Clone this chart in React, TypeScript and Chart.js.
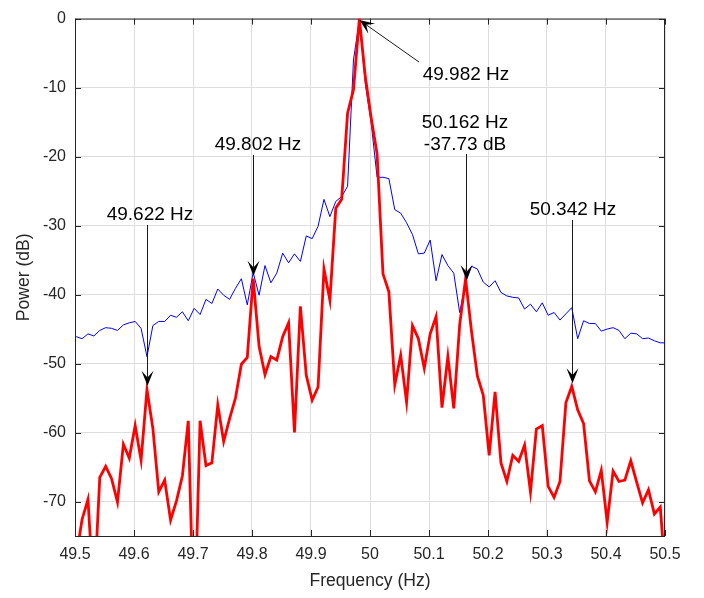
import React, { useEffect, useRef } from 'react';
import { Chart, registerables } from 'chart.js';

Chart.register(...registerables);

// Frequency bins (Hz)
const frequencies = [
  49.502, 49.512, 49.522, 49.532, 49.542, 49.552, 49.562, 49.572, 49.582, 49.592,
  49.602, 49.612, 49.622, 49.632, 49.642, 49.652, 49.662, 49.672, 49.682, 49.692,
  49.702, 49.712, 49.722, 49.732, 49.742, 49.752, 49.762, 49.772, 49.782, 49.792,
  49.802, 49.812, 49.822, 49.832, 49.842, 49.852, 49.862, 49.872, 49.882, 49.892,
  49.902, 49.912, 49.922, 49.932, 49.942, 49.952, 49.962, 49.972, 49.982, 49.992,
  50.002, 50.012, 50.022, 50.032, 50.042, 50.052, 50.062, 50.072, 50.082, 50.092,
  50.102, 50.112, 50.122, 50.132, 50.142, 50.152, 50.162, 50.172, 50.182, 50.192,
  50.202, 50.212, 50.222, 50.232, 50.242, 50.252, 50.262, 50.272, 50.282, 50.292,
  50.302, 50.312, 50.322, 50.332, 50.342, 50.352, 50.362, 50.372, 50.382, 50.392,
  50.402, 50.412, 50.422, 50.432, 50.442, 50.452, 50.462, 50.472, 50.482, 50.492,
  50.502,
];

// Blue thin trace (dB)
const bluePowerDb = [
  -46.1, -46.4, -45.7, -46.0, -45.2, -44.8, -44.9, -45.2, -44.4, -44.1,
  -43.9, -44.9, -49.0, -44.5, -43.9, -43.9, -43.0, -43.3, -42.5, -43.8,
  -42.0, -42.9, -40.7, -41.3, -39.2, -40.1, -40.7, -39.1, -37.7, -41.5,
  -36.8, -40.1, -35.8, -38.3, -36.9, -34.0, -35.4, -34.1, -35.2, -31.5,
  -31.9, -30.1, -26.2, -28.7, -26.5, -25.8, -24.3, -6.0, -0.2, -9.4,
  -15.1, -23.0, -23.0, -23.2, -27.7, -28.2, -29.6, -31.3, -34.1, -34.0,
  -32.1, -38.0, -34.2, -35.8, -36.9, -42.6, -38.3, -35.9, -36.3, -38.2,
  -38.9, -38.0, -39.7, -40.2, -40.4, -40.5, -42.1, -41.4, -42.5, -41.2,
  -43.0, -42.6, -43.7, -42.8, -41.9, -46.4, -43.8, -44.2, -44.2, -45.3,
  -45.0, -44.8, -45.2, -46.4, -45.6, -45.7, -46.4, -46.3, -46.7, -47.0,
  -47.0,
];

// Red thick trace (dB)
const redPowerDb = [
  -78.0, -72.6, -69.7, -84.0, -66.5, -64.9, -66.7, -70.1, -61.7, -63.7,
  -59.0, -64.0, -53.8, -59.4, -68.6, -66.9, -72.7, -69.9, -66.3, -58.3,
  -90.0, -58.3, -64.8, -64.4, -56.0, -61.3, -58.0, -55.0, -50.1, -49.1,
  -37.7, -47.5, -51.6, -49.0, -49.5, -46.1, -44.1, -60.0, -41.7, -51.7,
  -55.3, -53.4, -36.3, -40.8, -27.5, -26.2, -13.7, -10.3, 0.0, -8.4,
  -14.4, -19.6, -37.0, -39.6, -53.1, -48.8, -55.6, -44.5, -46.4, -50.7,
  -45.7, -43.2, -56.4, -49.0, -56.5, -44.4, -37.73, -45.3, -51.8, -54.6,
  -63.3, -54.1, -64.4, -67.1, -63.3, -64.2, -61.8, -68.6, -59.5, -59.0,
  -67.8, -69.4, -67.1, -55.7, -53.3, -56.7, -58.7, -67.0, -68.6, -65.5,
  -73.0, -65.6, -67.1, -66.9, -64.1, -67.2, -70.2, -68.3, -71.8, -70.8,
  -82.0,
];

const xTicks = [49.5, 49.6, 49.7, 49.8, 49.9, 50.0, 50.1, 50.2, 50.3, 50.4, 50.5];
const xTickLabels = ['49.5', '49.6', '49.7', '49.8', '49.9', '50', '50.1', '50.2', '50.3', '50.4', '50.5'];
const yTicks = [-70, -60, -50, -40, -30, -20, -10, 0];
const yTickLabels = ['-70', '-60', '-50', '-40', '-30', '-20', '-10', '0'];

// Annotated peaks (data point + label text)
const peakFreqs = [49.622, 49.802, 49.982, 50.162, 50.342];
const peakValues = [-53.8, -37.7, 0, -37.73, -53.3];
const peakLabels = [['49.622 Hz'], ['49.802 Hz'], ['49.982 Hz'], ['50.162 Hz', '-37.73 dB'], ['50.342 Hz']];

// Layout of the annotations (pixels)
const annotationLayout = [
  { textX: 150, textY: [220], tailX: null, tailY: 225, tipDy: -4 },
  { textX: 258, textY: [150], tailX: null, tailY: 155, tipDy: -3 },
  { textX: 466, textY: [80], tailX: 419, tailY: 62, tipDy: 1.5 },
  { textX: 465, textY: [128, 150], tailX: null, tailY: 154, tipDy: 1 },
  { textX: 573, textY: [215], tailX: null, tailY: 220, tipDy: -3 },
];

const FONT = '"Liberation Sans", Arial, Helvetica, sans-serif';
const AXIS_COLOR = '#262626';

function drawArrow(ctx: CanvasRenderingContext2D, x0: number, y0: number, x1: number, y1: number) {
  const dx = x1 - x0;
  const dy = y1 - y0;
  const len = Math.hypot(dx, dy);
  const ux = dx / len;
  const uy = dy / len;
  const nx = -uy;
  const ny = ux;
  const L = 15;
  const W = 12;
  const notch = 0.55 * L;
  ctx.beginPath();
  ctx.moveTo(x0, y0);
  ctx.lineTo(x1 - ux * notch, y1 - uy * notch);
  ctx.strokeStyle = '#1a1a1a';
  ctx.lineWidth = 1;
  ctx.stroke();
  ctx.beginPath();
  ctx.moveTo(x1, y1);
  ctx.lineTo(x1 - ux * L + nx * W / 2, y1 - uy * L + ny * W / 2);
  ctx.lineTo(x1 - ux * notch, y1 - uy * notch);
  ctx.lineTo(x1 - ux * L - nx * W / 2, y1 - uy * L - ny * W / 2);
  ctx.closePath();
  ctx.fillStyle = '#000000';
  ctx.fill();
}

const boxPlugin = {
  id: 'matlabBox',
  beforeDatasetsDraw(chart: any) {
    const { ctx, chartArea: a, scales } = chart;
    ctx.save();
    ctx.strokeStyle = AXIS_COLOR;
    ctx.lineWidth = 1;
    ctx.strokeRect(a.left + 0.5, a.top + 0.5, a.right - a.left - 1, a.bottom - a.top);
    const tl = 6;
    ctx.beginPath();
    xTicks.forEach((v) => {
      const px = Math.round(scales.x.getPixelForValue(v)) + 0.5;
      ctx.moveTo(px, a.bottom);
      ctx.lineTo(px, a.bottom - tl);
      ctx.moveTo(px, a.top);
      ctx.lineTo(px, a.top + tl);
    });
    yTicks.forEach((v) => {
      const py = Math.round(scales.y.getPixelForValue(v)) + 0.5;
      ctx.moveTo(a.left, py);
      ctx.lineTo(a.left + tl, py);
      ctx.moveTo(a.right, py);
      ctx.lineTo(a.right - tl, py);
    });
    ctx.stroke();
    ctx.restore();
  },
};

const annotationPlugin = {
  id: 'peakAnnotations',
  afterDatasetsDraw(chart: any) {
    const { ctx, scales } = chart;
    ctx.save();
    ctx.font = `19px ${FONT}`;
    ctx.fillStyle = '#000000';
    ctx.textAlign = 'center';
    ctx.textBaseline = 'alphabetic';
    peakFreqs.forEach((f, i) => {
      const lay = annotationLayout[i];
      peakLabels[i].forEach((t, j) => ctx.fillText(t, lay.textX, lay.textY[j]));
      const tipX = Math.round(scales.x.getPixelForValue(f)) + 0.5;
      const tipY = scales.y.getPixelForValue(peakValues[i]) + lay.tipDy;
      const tailX = lay.tailX === null ? tipX : lay.tailX;
      drawArrow(ctx, tailX, lay.tailY, tipX, tipY);
    });
    ctx.restore();
  },
};

export default function App() {
  const canvasRef = useRef<HTMLCanvasElement | null>(null);

  useEffect(() => {
    if (!canvasRef.current) return;
    const chart = new Chart(canvasRef.current, {
      type: 'line',
      data: {
        datasets: [
          {
            label: 'red',
            data: frequencies.map((f, i) => ({ x: f, y: redPowerDb[i] })),
            borderColor: '#ff0000',
            borderWidth: 2.8,
            pointRadius: 0,
            tension: 0,
            fill: false,
            clip: 0,
            order: 0,
          },
          {
            label: 'blue',
            data: frequencies.map((f, i) => ({ x: f, y: bluePowerDb[i] })),
            borderColor: '#0000ff',
            borderWidth: 1,
            pointRadius: 0,
            tension: 0,
            fill: false,
            clip: 0,
            order: 1,
          },
        ],
      },
      options: {
        animation: false,
        responsive: false,
        devicePixelRatio: 1,
        layout: { padding: { left: 0, right: 39, top: 11, bottom: 0 } },
        plugins: { legend: { display: false }, tooltip: { enabled: false } },
        scales: {
          x: {
            type: 'linear',
            min: 49.5,
            max: 50.5,
            afterBuildTicks: (scale: any) => {
              scale.ticks = xTicks.map((v) => ({ value: v }));
            },
            afterFit: (scale: any) => {
              scale.height = 62;
            },
            ticks: {
              autoSkip: false,
              maxRotation: 0,
              minRotation: 0,
              padding: 9,
              color: AXIS_COLOR,
              font: { family: FONT, size: 16 },
              callback: (value: any) => {
                const idx = xTicks.findIndex((t) => Math.abs(t - Number(value)) < 1e-6);
                return idx >= 0 ? xTickLabels[idx] : '';
              },
            },
            grid: { color: '#dedede', lineWidth: 1, drawTicks: false },
            border: { display: false },
            title: {
              display: true,
              text: 'Frequency (Hz)',
              color: AXIS_COLOR,
              font: { family: FONT, size: 17.6 },
              padding: { top: 0, bottom: 6 },
            },
          },
          y: {
            type: 'linear',
            min: -75,
            max: 0,
            afterBuildTicks: (scale: any) => {
              scale.ticks = yTicks.map((v) => ({ value: v }));
            },
            afterFit: (scale: any) => {
              scale.width = 75;
            },
            ticks: {
              autoSkip: false,
              padding: 9,
              color: AXIS_COLOR,
              font: { family: FONT, size: 16 },
              callback: (value: any) => {
                const idx = yTicks.findIndex((t) => Math.abs(t - Number(value)) < 1e-6);
                return idx >= 0 ? yTickLabels[idx] : '';
              },
            },
            grid: { color: '#dedede', lineWidth: 1, drawTicks: false },
            border: { display: false },
            title: {
              display: true,
              text: 'Power (dB)',
              color: AXIS_COLOR,
              font: { family: FONT, size: 17.6 },
              padding: { top: 14, bottom: 0 },
            },
          },
        },
      },
      plugins: [boxPlugin, annotationPlugin],
    } as any);
    return () => chart.destroy();
  }, []);

  return (
    <div style={{ position: 'absolute', left: 0, top: 0, width: 704, height: 598, background: '#ffffff' }}>
      <canvas ref={canvasRef} width={704} height={598} style={{ display: 'block' }} />
    </div>
  );
}
